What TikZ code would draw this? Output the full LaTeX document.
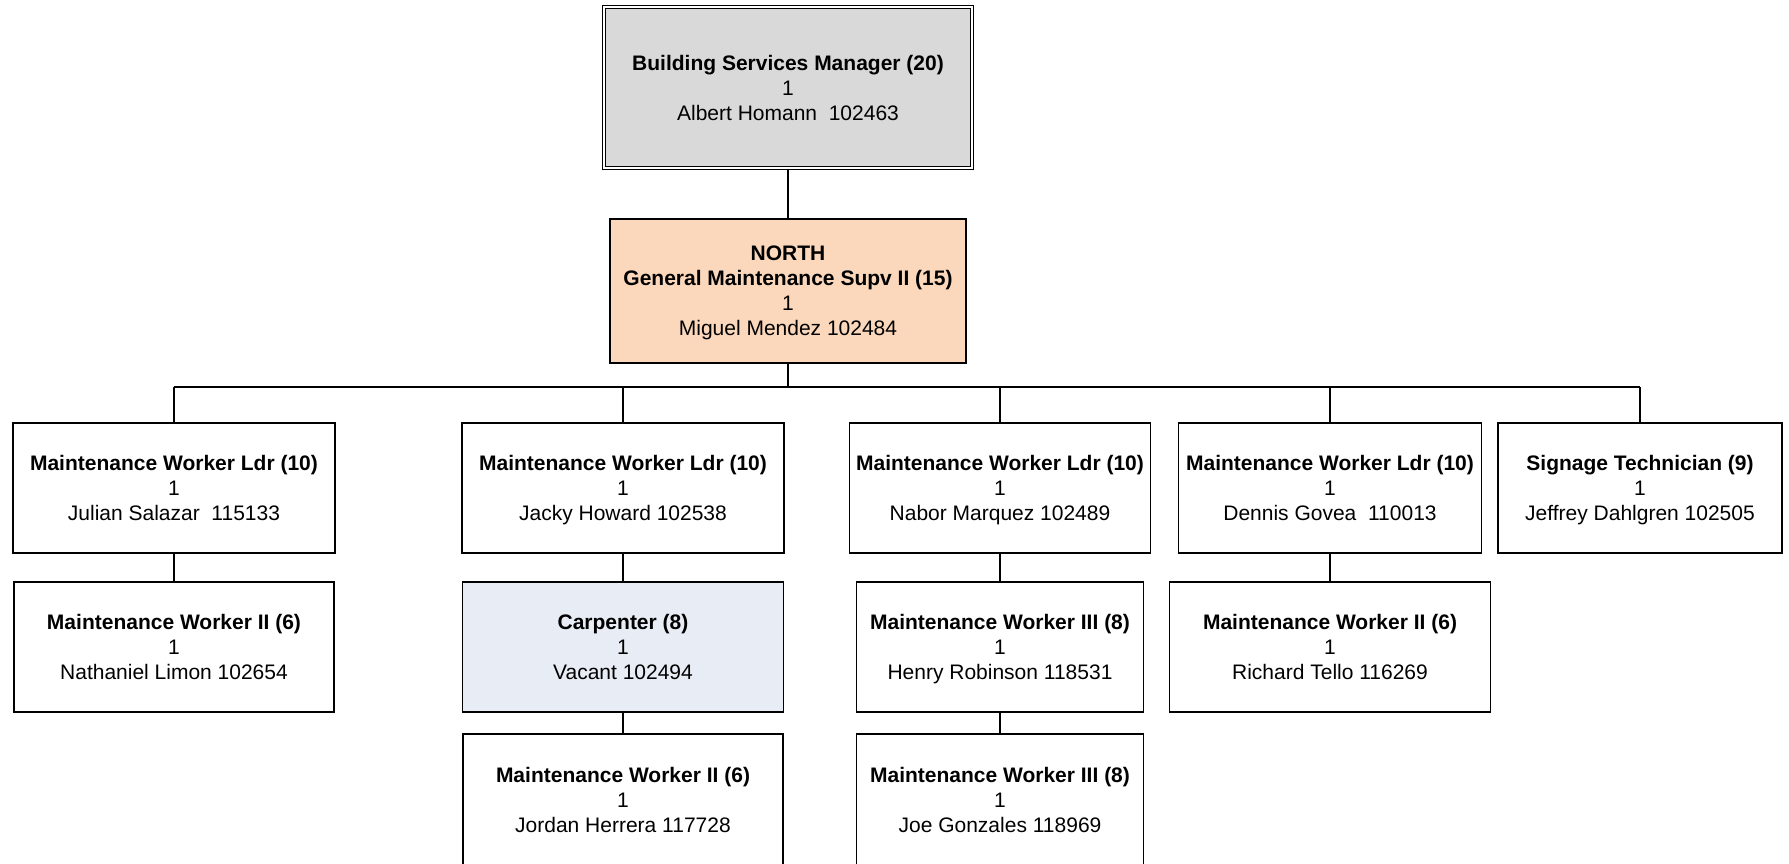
\documentclass[tikz,border=0pt]{standalone}
\usepackage{fontspec}
\setmainfont{Liberation Sans}
\definecolor{mgrgray}{HTML}{D9D9D9}
\definecolor{peach}{HTML}{FBD8BC}
\definecolor{vacblue}{HTML}{E8ECF4}
\newcommand{\topstrut}{\rule{0pt}{21.5pt}}
\newcommand{\card}[2]{\textbf{#1}\topstrut\\1\\#2\strut}
\begin{document}
\begin{tikzpicture}[x=1pt,y=-1pt,
  box/.style={draw=black, line width=1.6pt, rectangle, inner sep=0pt, align=center,
    font=\fontsize{21}{25}\selectfont, fill=white},
  lev/.style={box, minimum height=130pt},
  conn/.style={draw=black, line width=1.6pt}]
\useasboundingbox (0,0) rectangle (1789,863);
\fill[white] (0,0) rectangle (1789,863);

\node[box, fill=mgrgray, double, double distance=2.2pt, line width=1.2pt,
  minimum width=368pt, minimum height=161pt] (mgr) at (788,87.5)
  {\textbf{Building Services Manager (20)}\rule{0pt}{23pt}\\1\\Albert Homann\ \ 102463\strut};

\node[box, fill=peach, minimum width=356pt, minimum height=144pt] (north) at (788,291)
  {\textbf{NORTH}\topstrut\\\textbf{General Maintenance Supv II (15)}\\1\\Miguel Mendez 102484\strut};

\node[lev, minimum width=322pt] (A) at (174,488)
  {\card{Maintenance Worker Ldr (10)}{Julian Salazar\ \ 115133}};
\node[lev, minimum width=322pt] (B) at (623,488)
  {\card{Maintenance Worker Ldr (10)}{Jacky Howard 102538}};
\node[lev, minimum width=301pt] (C) at (1000,488)
  {\card{Maintenance Worker Ldr (10)}{Nabor Marquez 102489}};
\node[lev, minimum width=303pt] (D) at (1330,488)
  {\card{Maintenance Worker Ldr (10)}{Dennis Govea\ \ 110013}};
\node[lev, minimum width=284pt] (E) at (1640,488)
  {\card{Signage Technician (9)}{Jeffrey Dahlgren 102505}};

\node[lev, minimum width=320pt] (A2) at (174,647)
  {\card{Maintenance Worker II (6)}{Nathaniel Limon 102654}};
\node[lev, fill=vacblue, minimum width=321pt] (B2) at (623,647)
  {\card{Carpenter (8)}{Vacant 102494}};
\node[lev, minimum width=287pt] (C2) at (1000,647)
  {\card{Maintenance Worker III (8)}{Henry Robinson 118531}};
\node[lev, minimum width=321pt] (D2) at (1330,647)
  {\card{Maintenance Worker II (6)}{Richard Tello 116269}};

\node[lev, minimum width=320pt, minimum height=133pt] (B3) at (623,800.5)
  {\card{Maintenance Worker II (6)}{Jordan Herrera 117728}};
\node[lev, minimum width=287pt, minimum height=133pt] (C3) at (1000,800.5)
  {\card{Maintenance Worker III (8)}{Joe Gonzales 118969}};

\coordinate (bus) at (0,387);

\draw[conn] (mgr.south) -- (north.north);
\draw[conn] (north.south) -- (north.south |- bus);
\draw[conn] (A.north |- bus) -- (E.north |- bus);
\foreach \n in {A,B,C,D,E} {
  \draw[conn] (\n.north) -- (\n.north |- bus);
}
\draw[conn] (A.south) -- (A2.north);
\draw[conn] (B.south) -- (B2.north);
\draw[conn] (B2.south) -- (B3.north);
\draw[conn] (C.south) -- (C2.north);
\draw[conn] (C2.south) -- (C3.north);
\draw[conn] (D.south) -- (D2.north);
\end{tikzpicture}
\end{document}
